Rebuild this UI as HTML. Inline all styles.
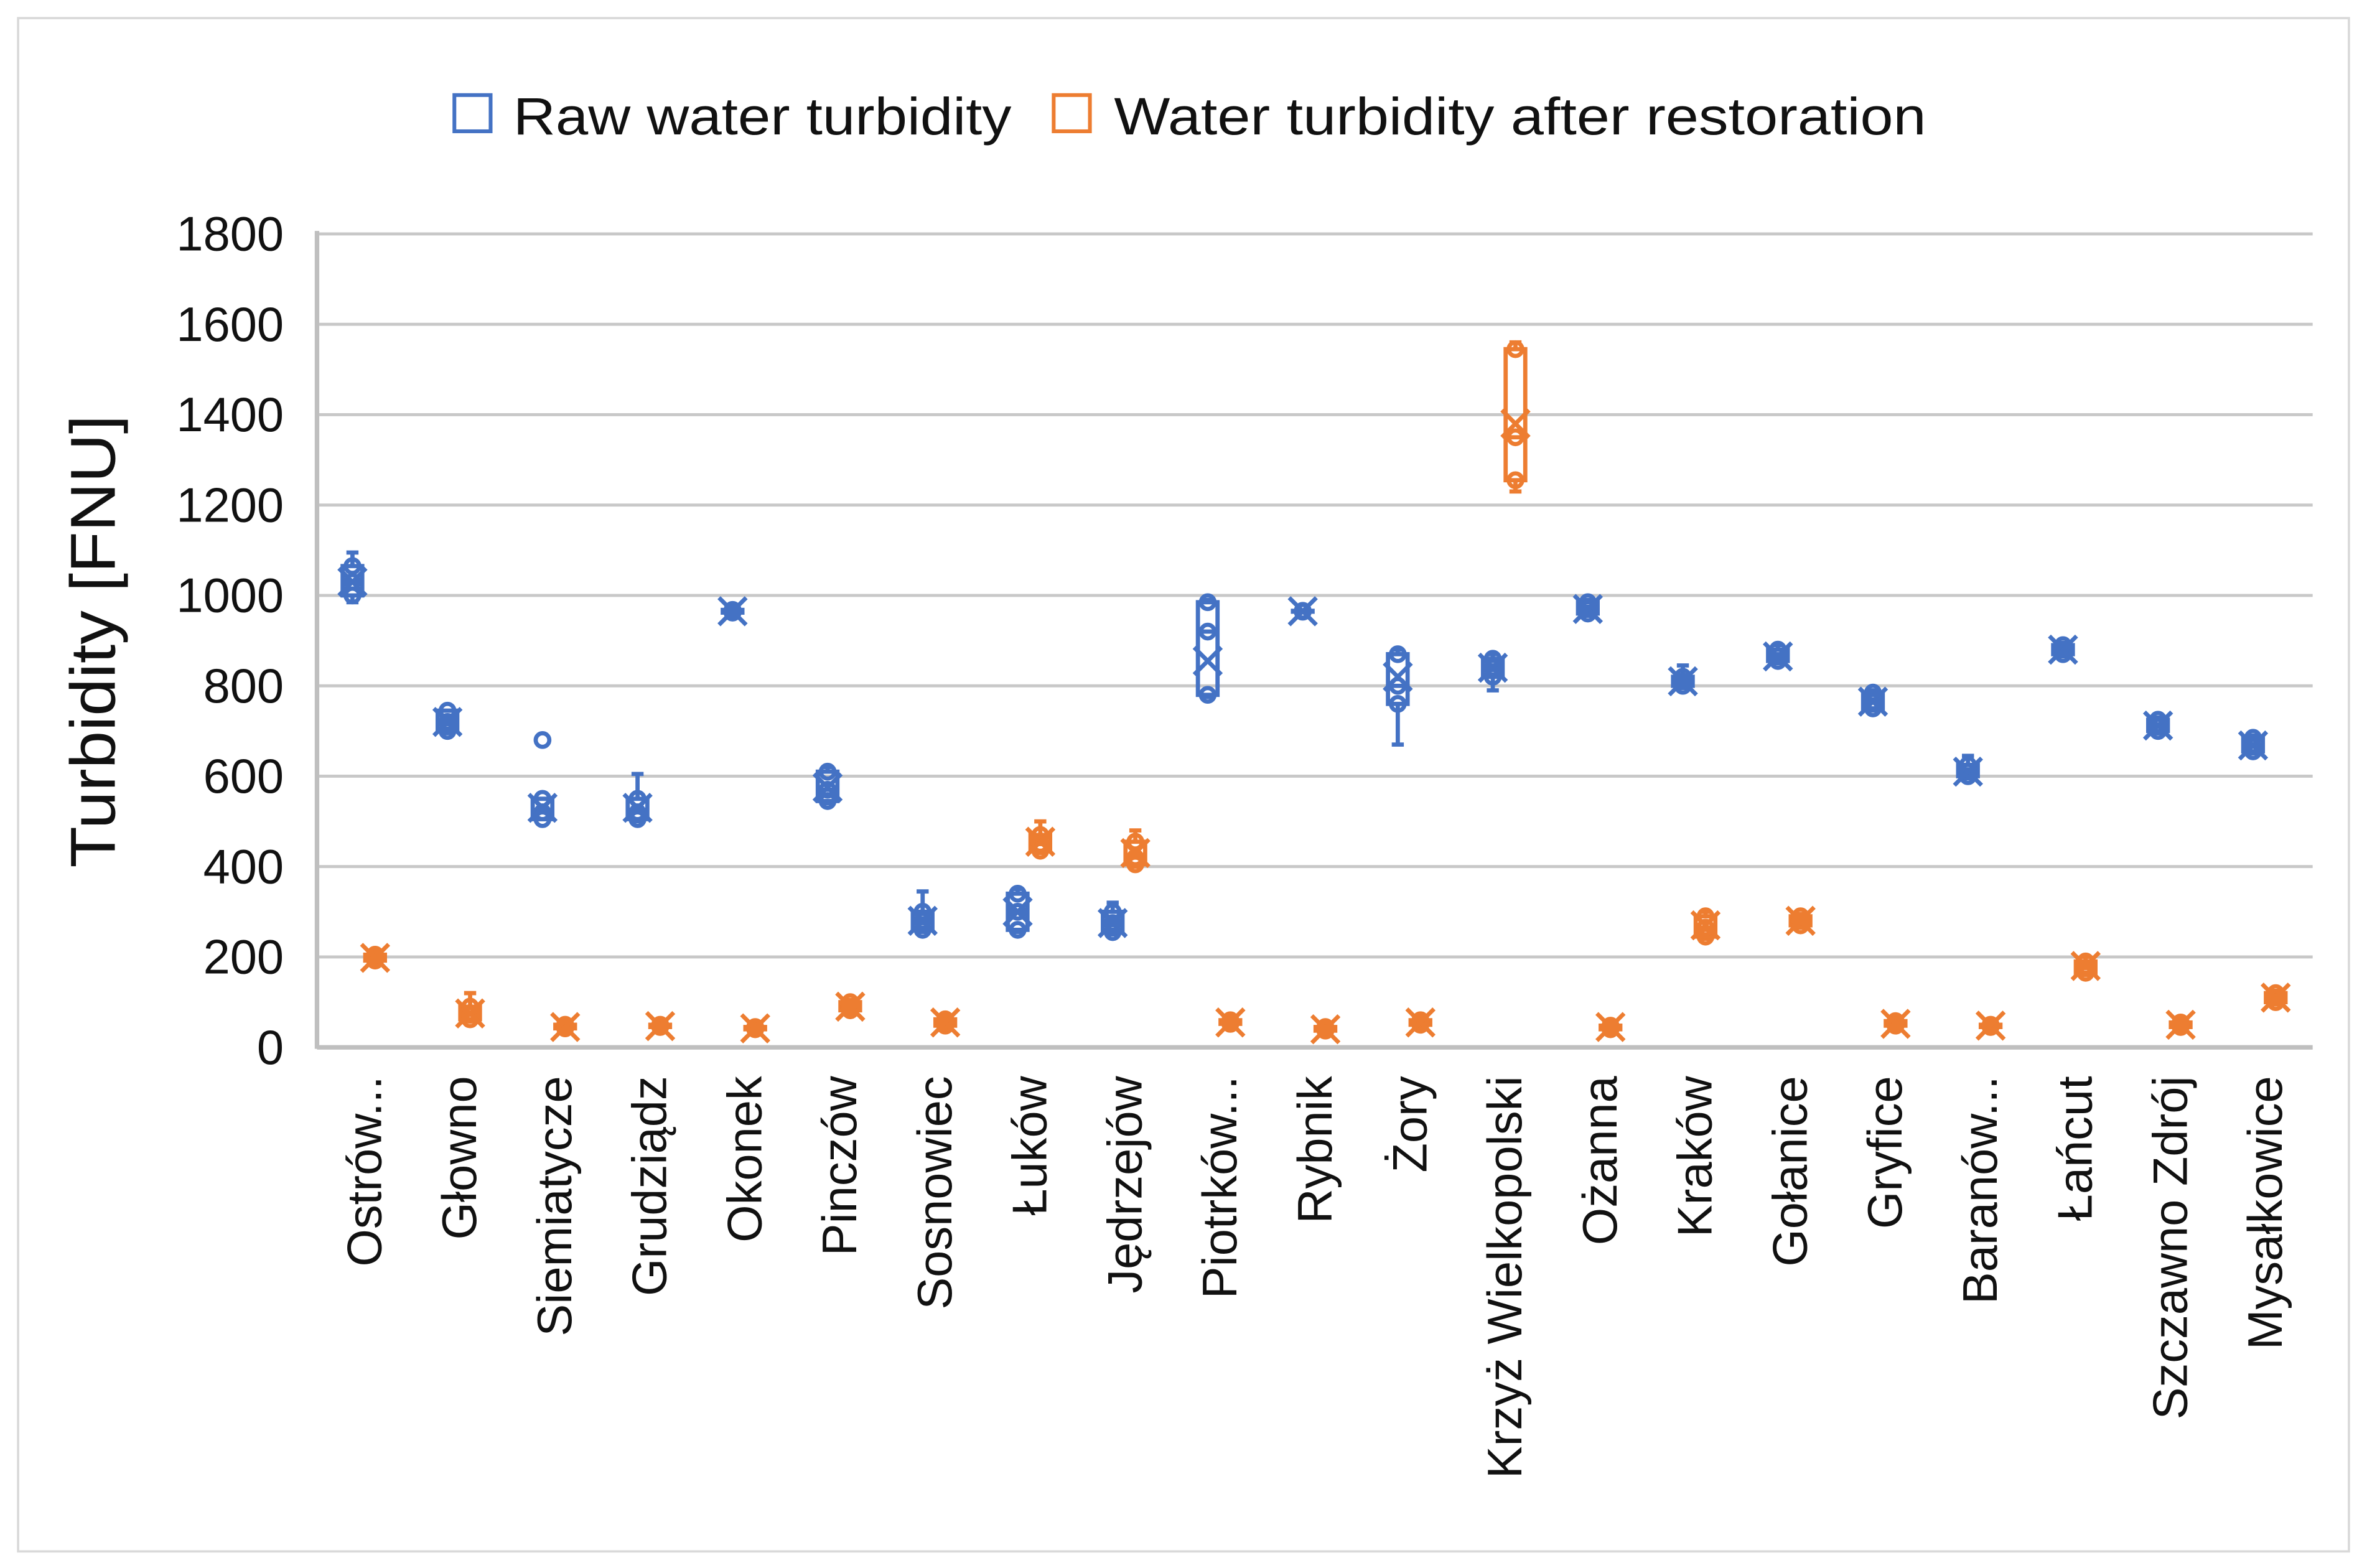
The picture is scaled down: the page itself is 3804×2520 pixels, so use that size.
<!DOCTYPE html>
<html><head><meta charset="utf-8"><style>
html,body{margin:0;padding:0;background:#fff}
svg{display:block}
text{font-family:"Liberation Sans","DejaVu Sans",sans-serif;fill:#111}
</style></head><body>
<svg id="chart" width="3804" height="2520" viewBox="0 0 1568 1039" preserveAspectRatio="none" xmlns="http://www.w3.org/2000/svg">
<rect x="12" y="12" width="1544" height="1016" fill="#fff" stroke="#d9d9d9" stroke-width="1.5"/>
<g>
 <g><rect x="301" y="63" width="24" height="24" fill="none" stroke="#4472c4" stroke-width="2.5"/><text x="340" y="89" font-size="35" textLength="330" lengthAdjust="spacingAndGlyphs">Raw water turbidity</text></g>
 <g><rect x="698" y="63" width="24" height="24" fill="none" stroke="#ed7d31" stroke-width="2.5"/><text x="738" y="89" font-size="35" textLength="538" lengthAdjust="spacingAndGlyphs">Water turbidity after restoration</text></g>
</g>
<text transform="translate(76,425) rotate(-90)" text-anchor="middle" font-size="42" textLength="300" lengthAdjust="spacingAndGlyphs">Turbidity [FNU]</text>
<g id="grid"></g>
<g id="yticks"></g>
<g id="marks"></g>
<g id="xlabels"></g>
</svg>
<script>
const categories=["Ostrów...","Głowno","Siemiatycze","Grudziądz","Okonek","Pinczów","Sosnowiec","Łuków","Jędrzejów","Piotrków...","Rybnik","Żory","Krzyż Wielkopolski","Ożanna","Kraków","Gołanice","Gryfice","Baranów...","Łańcut","Szczawno Zdrój","Mysałkowice"];
const yTicks=[0,200,400,600,800,1000,1200,1400,1600,1800];
const rawMin=[985,695,505,500,960,540,255,255,250,775,963,670,790,955,795,850,745,595,865,695,650];
const rawQ1=[1000,700,505,505,962,545,260,260,255,780,964,760,820,960,800,855,750,600,870,700,655];
const rawMed=[1030,720,520,520,965,570,280,300,275,920,965,800,840,970,810,865,765,610,880,710,665];
const rawQ3=[1065,745,550,550,968,610,300,340,300,985,966,870,860,985,820,880,785,625,890,725,685];
const rawMax=[1095,745,550,605,970,620,345,350,320,990,967,880,870,990,845,890,790,645,895,730,690];
const rawMean=[1030,720,530,530,965,575,280,300,275,855,965,820,840,970,810,865,765,610,880,712,668];
const rawOutliers=[[],[],[680],[],[],[],[],[],[],[],[],[],[],[],[],[],[],[],[],[],[]];
const aftMin=[190,60,40,42,38,80,45,430,400,50,35,48,1230,38,240,265,45,42,160,42,95];
const aftQ1=[192,62,42,45,40,82,48,435,405,52,37,50,1255,40,245,270,48,45,165,45,100];
const aftMed=[197,72,45,47,42,90,55,450,420,55,40,55,1350,45,265,280,52,48,175,50,110];
const aftQ3=[205,90,50,50,45,100,62,470,455,60,45,60,1545,48,290,290,58,50,190,55,120];
const aftMax=[208,120,55,52,48,105,70,500,480,65,48,65,1560,50,300,295,62,52,200,58,125];
const aftMean=[198,75,45,47,42,90,55,455,430,55,40,55,1380,45,270,280,52,48,180,50,110];

const NS="http://www.w3.org/2000/svg";
const X0=210,X1=1532,Y0=694,Ytop=155,VMAX=1800;
const y=v=>Y0-(v/VMAX)*(Y0-Ytop);
const step=(X1-X0)/categories.length;
const xc=i=>X0+step*(i+0.5);
function mk(tag,attrs,parent){const e=document.createElementNS(NS,tag);for(const k in attrs)e.setAttribute(k,attrs[k]);parent.appendChild(e);return e;}
const grid=document.getElementById('grid'),yt=document.getElementById('yticks'),marks=document.getElementById('marks'),xl=document.getElementById('xlabels');
yTicks.forEach(t=>{
 if(t>0){const l=mk('line',{x1:X0,x2:X1,y1:y(t),y2:y(t),stroke:'#c8c8c8','stroke-width':2},grid);
 
 }
 const tx=mk('text',{x:188,y:y(t)+11,'text-anchor':'end','font-size':32},yt);tx.textContent=t;
 
 
});
const ax=mk('line',{x1:X0,x2:X1,y1:Y0,y2:Y0,stroke:'#bfbfbf','stroke-width':3},grid);


const ay=mk('line',{x1:X0,x2:X0,y1:Ytop-2,y2:Y0+1,stroke:'#bfbfbf','stroke-width':3},grid);



function drawBox(i,cx,col,mn,q1,md,q3,mx,mean,outs,name){
 const g=mk('g',{stroke:col,'stroke-width':2.8,fill:'none'},marks);
 
 
 const hw=6.5;
 mk('line',{x1:cx,x2:cx,y1:y(mx),y2:y(q3)},g);
 mk('line',{x1:cx,x2:cx,y1:y(q1),y2:y(mn)},g);
 mk('line',{x1:cx-4,x2:cx+4,y1:y(mx),y2:y(mx)},g);
 mk('line',{x1:cx-4,x2:cx+4,y1:y(mn),y2:y(mn)},g);
 const top=y(q3),bot=y(q1);
 mk('rect',{x:cx-hw,y:top,width:hw*2,height:Math.max(bot-top,0.5)},g);
 mk('line',{x1:cx-hw,x2:cx+hw,y1:y(md),y2:y(md)},g);
 [q1,md,q3].forEach(v=>mk('circle',{cx:cx,cy:y(v),r:4.5},g));
 const my=y(mean),s=9;
 mk('line',{x1:cx-s,x2:cx+s,y1:my-s,y2:my+s},g);
 mk('line',{x1:cx-s,x2:cx+s,y1:my+s,y2:my-s},g);
 outs.forEach(v=>mk('circle',{cx:cx,cy:y(v),r:4.5},g));
}
categories.forEach((c,i)=>{
 const cx=xc(i);
 drawBox(i,cx-8,'#4472c4',rawMin[i],rawQ1[i],rawMed[i],rawQ3[i],rawMax[i],rawMean[i],rawOutliers[i],'raw-box-'+i);
 drawBox(i,cx+7,'#ed7d31',aftMin[i],aftQ1[i],aftMed[i],aftQ3[i],aftMax[i],aftMean[i],[],'after-box-'+i);
 const t=mk('text',{transform:`translate(${cx+11},713) rotate(-90)`,'text-anchor':'end','font-size':32},xl);
 t.textContent=c;
 
 
});
</script>
</body></html>
